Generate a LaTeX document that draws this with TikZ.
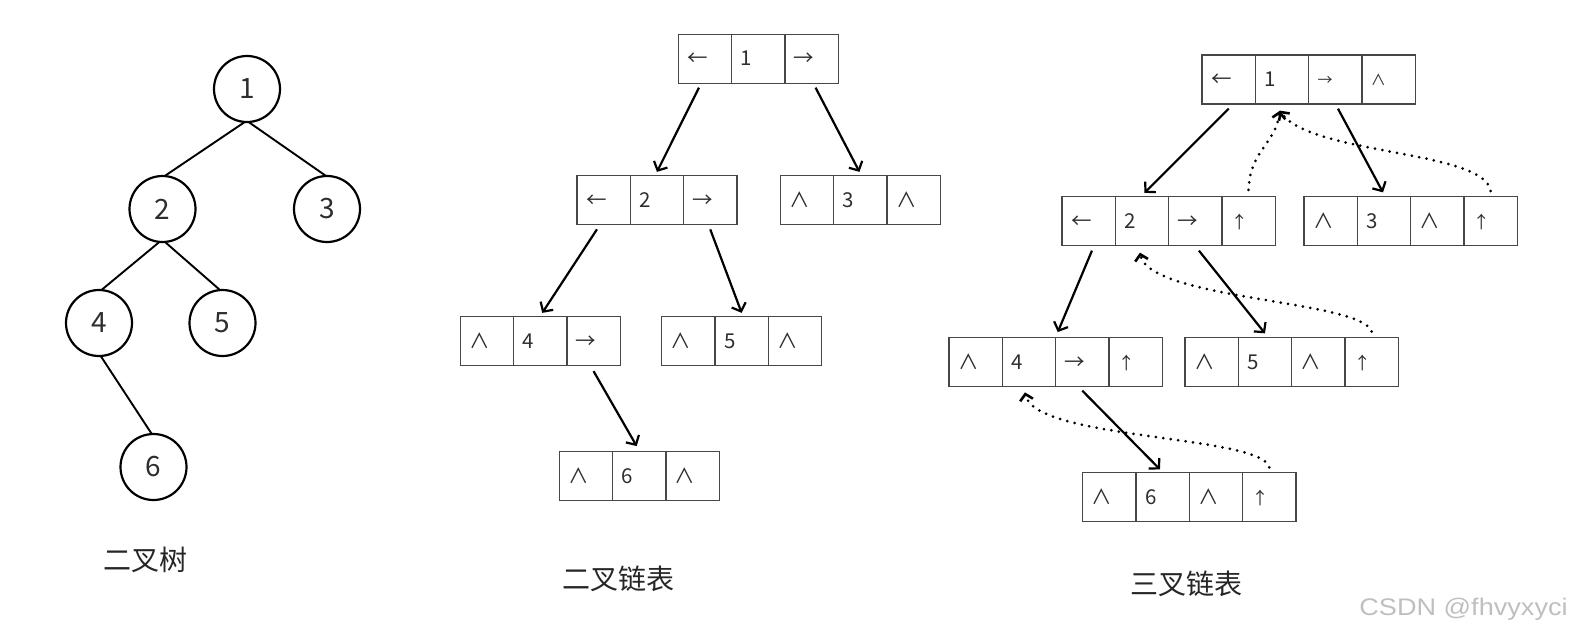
\documentclass[tikz,border=0pt]{standalone}
\usepackage{fontspec}
\setmainfont{Noto Sans CJK SC}
\newfontfamily\wmfont{Liberation Sans}
\usetikzlibrary{arrows.meta}
\newcommand\mkrec[4]{%
  \foreach \t [count=\i] in {#4}{%
    \node[cell] (#1-\i) at ({#2+(\i-0.5)*53.3},{#3+24.5}) {\t};}}
\newcommand\smallg[1]{{\fontsize{15}{15}\selectfont\raisebox{1.5pt}{#1}}}
\newcommand\upg{{\fontsize{17}{17}\selectfont ↑}}
\begin{document}
\begin{tikzpicture}[x=1pt,y=-1pt,
  circ/.style={draw, circle, line width=2.2pt, minimum size=66pt, inner sep=0pt,
    text=black!82, font=\fontsize{28}{28}\selectfont},
  tedge/.style={line width=1.9pt, shorten <=-2pt, shorten >=-2pt},
  cell/.style={draw=black!72, line width=1.3pt, minimum height=49pt,
    text width=35.3pt, inner xsep=9pt, inner ysep=0pt, align=left,
    text height=14pt, text depth=0pt, text=black!82,
    font=\fontsize{20.5}{20.5}\selectfont},
  arr/.style={line width=2.2pt, -{Straight Barb[length=7pt,width=15pt]}},
  dotarr/.style={line width=3pt, line cap=round, dash pattern=on 0pt off 7.5pt,
    -{Straight Barb[length=6pt,width=13pt,line width=2.6pt]}},
  lab/.style={text=black!85, font=\fontsize{28}{28}\selectfont}]
\useasboundingbox (0,0) rectangle (1573,638);

% ---------- binary tree ----------
\node[circ] (n1) at (247,89) {1};
\node[circ] (n2) at (162.5,209) {2};
\node[circ] (n3) at (327,209) {3};
\node[circ] (n4) at (99,323) {4};
\node[circ] (n5) at (222.5,323) {5};
\node[circ] (n6) at (153.5,467) {6};
\draw[tedge] (n1.264) -- (n2.84.5);
\draw[tedge] (n1.275.7) -- (n3.94);
\draw[tedge] (n2.263.6) -- (n4.84.6);
\draw[tedge] (n2.276.4) -- (n5.96.2);
\draw[tedge] (n4.274) -- (n6.94.2);
\node[lab] (l1) at (145,560) {二叉树};

% ---------- binary linked list ----------
\mkrec{b1}{678.3}{34.3}{←,1,→}
\mkrec{b2}{577}{175.5}{←,2,→}
\mkrec{b3}{780.5}{175.5}{∧,3,∧}
\mkrec{b4}{460.3}{316.5}{∧,4,→}
\mkrec{b5}{661.7}{316.5}{∧,5,∧}
\mkrec{b6}{559.3}{451.7}{∧,6,∧}
\draw[arr] ([xshift=-6pt,yshift=-3.7pt]b1-1.south) -- ([yshift=3pt]b2-2.north);
\draw[arr] ([xshift=4pt,yshift=-3.7pt]b1-3.south) -- ([xshift=-1pt,yshift=3pt]b3-2.north);
\draw[arr] ([xshift=-6.7pt,yshift=-4.2pt]b2-1.south) -- ([xshift=2pt,yshift=3pt]b4-2.north);
\draw[arr] ([yshift=-4.2pt]b2-3.south) -- ([yshift=3pt]b5-2.north);
\draw[arr] ([yshift=-5pt]b4-3.south) -- ([xshift=-2.6pt,yshift=5pt]b6-2.north);
\node[lab] (l2) at (618,579) {二叉链表};

% ---------- ternary linked list ----------
\mkrec{t1}{1202}{55}{←,1,\smallg{→},\smallg{∧}}
\mkrec{t2}{1062}{196.5}{←,2,→,\upg}
\mkrec{t3}{1304}{196.7}{∧,3,∧,\upg}
\mkrec{t4}{949}{337.7}{∧,4,→,\upg}
\mkrec{t5}{1185}{337.7}{∧,5,∧,\upg}
\mkrec{t6}{1082.7}{472.7}{∧,6,∧,\upg}
\draw[arr] ([yshift=-4pt]t1-1.south) -- ([xshift=2.5pt,yshift=3pt]t2-2.north);
\draw[arr] ([xshift=2.7pt,yshift=-4pt]t1-3.south) -- ([xshift=-1pt,yshift=3.7pt]t3-2.north);
\draw[arr] ([xshift=3.3pt,yshift=-4.5pt]t2-1.south) -- ([xshift=1.5pt,yshift=5pt]t4-2.north east);
\draw[arr] ([xshift=3.7pt,yshift=-4.5pt]t2-3.south) -- ([yshift=3.7pt]t5-2.north);
\draw[arr] ([yshift=-3.3pt]t4-3.south) -- ([xshift=-2.7pt,yshift=2.7pt]t6-2.north);
% parent pointers
\draw[dotarr] ([yshift=6pt]t2-4.north) .. controls (1250,150) and (1275,145) .. ([xshift=-2pt,yshift=-6pt]t1-2.south);
\draw[dotarr] ([yshift=5pt]t3-4.north) .. controls (1485,150) and (1310,155) .. ([xshift=-2pt,yshift=-6pt]t1-2.south);
\draw[dotarr] ([yshift=5.5pt]t5-4.north) .. controls (1362,300) and (1150,300) .. ([xshift=-2pt,yshift=-6.5pt]t2-2.south);
\draw[dotarr] ([yshift=4.7pt]t6-4.north) .. controls (1262,435) and (1035,440) .. ([xshift=-4pt,yshift=-5pt]t4-2.south);
\node[lab] (l3) at (1186,584) {三叉链表};

% ---------- watermark ----------
\node[text=black!25, font=\wmfont\fontsize{24}{24}\selectfont] (wm) at (1463.5,609) {\scalebox{1.13}[1]{CSDN @fhvyxyci}};
\end{tikzpicture}
\end{document}
